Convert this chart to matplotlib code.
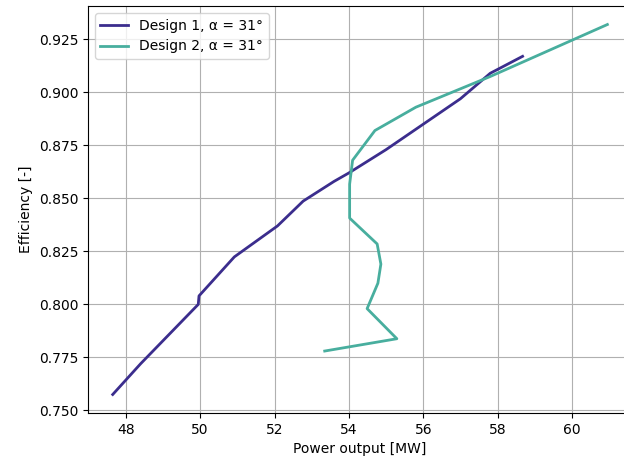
import matplotlib
matplotlib.use('Agg')
import matplotlib.pyplot as plt

# Design 1 (alpha = 31 deg)
power_1 = [47.65, 48.4, 49.95, 49.97, 50.92, 52.08, 52.77, 53.6, 54.0, 55.0, 56.0, 57.0, 57.8, 58.67]
eff_1 = [0.7575, 0.772, 0.800, 0.804, 0.8224, 0.837, 0.8487, 0.858, 0.862, 0.873, 0.885, 0.897, 0.909, 0.917]

# Design 2 (alpha = 31 deg)
power_2 = [53.35, 55.29, 54.49, 54.78, 54.86, 54.76, 54.02, 54.02, 54.1, 54.7, 55.8, 57.79, 60.95]
eff_2 = [0.778, 0.7838, 0.798, 0.810, 0.819, 0.8285, 0.8407, 0.8567, 0.868, 0.882, 0.893, 0.9074, 0.932]

fig = plt.figure(figsize=(6.24, 4.63), dpi=100)
# axes run past the right edge, as in the cropped original
ax = fig.add_axes([0.141, 0.108, 0.872, 0.879])

ax.plot(power_1, eff_1, color='#3b2d8d', linewidth=2, label='Design 1, α = 31°')
ax.plot(power_2, eff_2, color='#48ae9e', linewidth=2, label='Design 2, α = 31°')

ax.set_xlabel('Power output [MW]')
ax.set_ylabel('Efficiency [-]')
ax.grid(True)
ax.legend(loc='upper left')
ax.spines['right'].set_visible(False)

fig.savefig('out.png', dpi=100)
